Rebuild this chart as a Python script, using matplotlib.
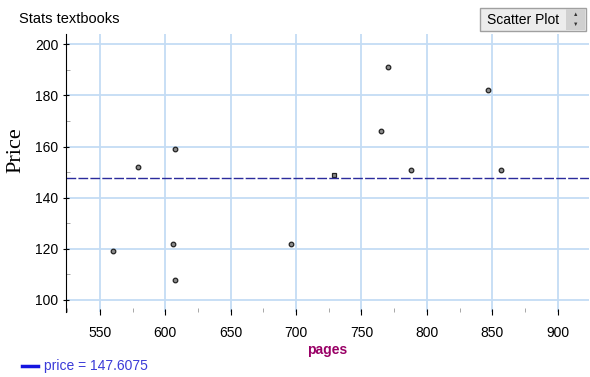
import matplotlib.pyplot as plt
from matplotlib.patches import FancyBboxPatch
from matplotlib.ticker import MultipleLocator

plt.rcParams['font.family'] = ['Liberation Sans', 'DejaVu Sans']

pages = [560, 579, 607, 606, 607, 696, 729, 765, 770, 788, 847, 857]
price = [119, 152, 159, 122, 108, 122, 149, 166, 191, 151, 182, 151]
mean_price = 147.6075

xticks = [550, 600, 650, 700, 750, 800, 850, 900]
yticks = [100, 120, 140, 160, 180, 200]

fig = plt.figure(figsize=(5.9, 3.77), dpi=100)
ax = fig.add_axes([66/590, 1 - 312/377, 523/590, (312 - 34)/377])

ax.set_xlim(524, 924)
ax.set_ylim(95.3, 204)
ax.set_xticks(xticks)
ax.set_yticks(yticks)
ax.xaxis.set_minor_locator(MultipleLocator(25))
ax.yaxis.set_minor_locator(MultipleLocator(10))
ax.grid(True, which='major', color='#c4dcf4', linewidth=1.3)
ax.set_axisbelow(True)

for s in ['top', 'right', 'bottom']:
    ax.spines[s].set_visible(False)
ax.spines['left'].set_color('black')
ax.tick_params(axis='both', which='major', labelsize=10, length=4, color='black', direction='inout')
ax.tick_params(axis='both', which='minor', length=3, color='#999999', direction='in')
ax.tick_params(axis='x', which='both', pad=8)

for i in range(len(pages)):
    m = 's' if i == 6 else 'o'
    ax.plot(pages[i], price[i], marker=m, markersize=3.3, markerfacecolor='#8c8c8c',
            markeredgecolor='#222222', markeredgewidth=0.9, linestyle='none')

ax.axhline(mean_price, color='#2b2b9c', linestyle=(0, (7, 1.6)), linewidth=1)

ax.set_xlabel('pages', color='#990066', fontweight='bold', fontsize=10, labelpad=2)
fig.text(16/590, 1 - 150/377, 'Price', family='Liberation Serif', fontsize=16,
         rotation=90, ha='center', va='center')

fig.text(19/590, 1 - 23/377, 'Stats textbooks', fontsize=10.5, va='baseline')

# dropdown widget
box = FancyBboxPatch((480/590, 1 - 31/377), 106/590, 23/377, boxstyle='square,pad=0',
                     transform=fig.transFigure, facecolor='#ececec', edgecolor='#a0a0a0',
                     linewidth=1)
fig.patches.append(box)
btn = FancyBboxPatch((566/590, 1 - 30/377), 19/590, 21/377, boxstyle='square,pad=0',
                     transform=fig.transFigure, facecolor='#d0d0d0', edgecolor='none')
fig.patches.append(btn)
fig.text(487/590, 1 - 19.5/377, 'Scatter Plot', fontsize=10, va='center')
fig.text(575.5/590, 1 - 15/377, '\u25b2', fontsize=4, ha='center', va='center', color='#333333')
fig.text(575.5/590, 1 - 24/377, '\u25bc', fontsize=4, ha='center', va='center', color='#333333')

# legend text
fig.add_artist(plt.Line2D([22/590, 38/590], [1 - 366/377, 1 - 366/377], color='#1515e0',
                          linewidth=2.5, transform=fig.transFigure))
fig.text(44/590, 1 - 366/377, 'price = 147.6075', fontsize=10, va='center', color='#3b3bd8')

fig.savefig('out.png', dpi=100)
